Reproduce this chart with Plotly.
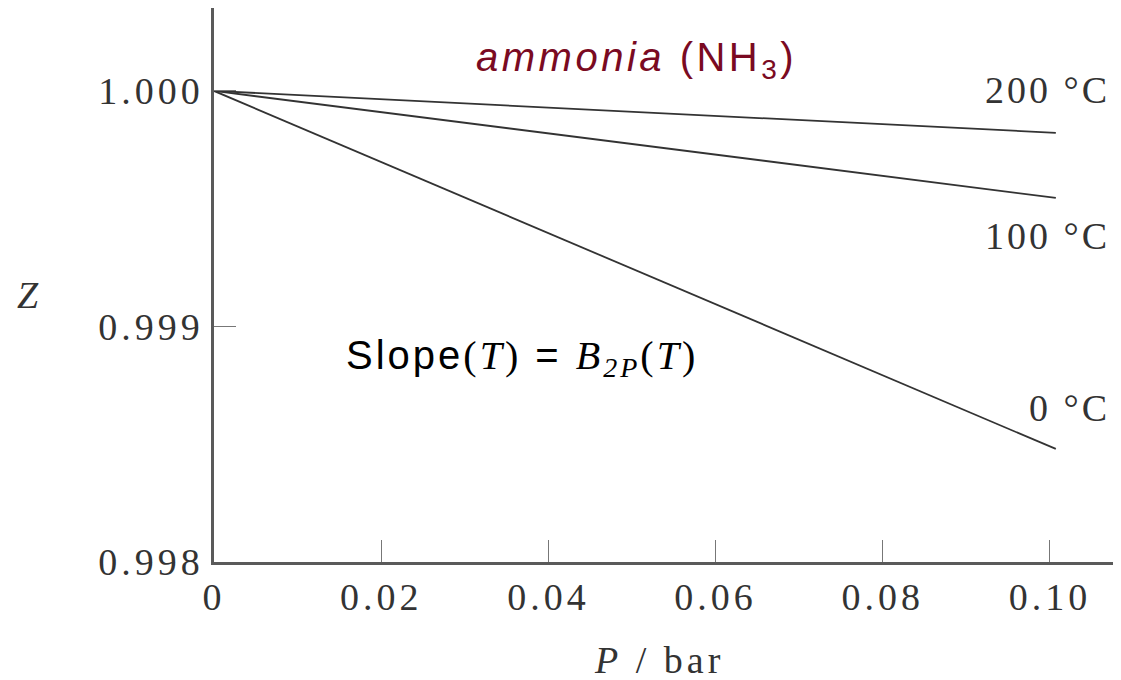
import plotly.graph_objects as go

# Data
pressure = [0.0, 0.1007]            # P / bar
z_200 = [1.0, 0.999822]
z_100 = [1.0, 0.999546]
z_0 = [1.0, 0.998480]
series_names = ["200 °C", "100 °C", "0 °C"]

x_tickvals = [0, 0.02, 0.04, 0.06, 0.08, 0.10]
x_ticklabels = ["0", "0.02", "0.04", "0.06", "0.08", "0.10"]
y_tickvals = [0.998, 0.999, 1.000]
y_ticklabels = ["0.998", "0.999", "1.000"]

SERIF = "Liberation Serif, Times New Roman, serif"
SANS = "Liberation Sans, Arial, sans-serif"
LINE_COLOR = "#333333"
AXIS_COLOR = "#5a5a5a"
TEXT_COLOR = "#333333"


def spaced(t, px):
    return f"<span style='letter-spacing:{px}px'>{t}</span>"


fig = go.Figure()
for name, z in zip(series_names, [z_200, z_100, z_0]):
    fig.add_trace(go.Scatter(x=pressure, y=z, mode="lines", name=name,
                             line=dict(color=LINE_COLOR, width=1.8),
                             showlegend=False, hoverinfo="skip"))

# Curve labels
for name, ypos in zip(series_names, [1.000004, 0.999384, 0.998654]):
    fig.add_annotation(x=1.0, xref="paper", y=ypos, yref="y", text=spaced(name, 3),
                       showarrow=False, xanchor="right", yanchor="middle", xshift=-4,
                       font=dict(family=SERIF, size=38, color=TEXT_COLOR))

# Title-like label
fig.add_annotation(x=0.0505, xref="x", y=1.000132, yref="y",
                   text=spaced("<i>ammonia</i> (NH<sub>3</sub>)", 3.5), showarrow=False,
                   xanchor="center", yanchor="middle",
                   font=dict(family=SANS, size=40, color="#7a0a22"))

# Slope annotation
fig.add_annotation(x=0.0155, xref="x", y=0.998866, yref="y",
                   text=spaced("Slope<span style='font-family:Liberation Serif'>(<i>T</i>)</span> = "
                               "<span style='font-family:Liberation Serif'><i>B</i><sub><i>2P</i></sub>(<i>T</i>)</span>", 3),
                   showarrow=False, xanchor="left", yanchor="middle",
                   font=dict(family=SANS, size=40, color="#000"))

# Axis titles
fig.add_annotation(x=-0.206, xref="paper", y=0.999134, yref="y", text="<i>Z</i>", showarrow=False,
                   xanchor="center", yanchor="middle",
                   font=dict(family=SERIF, size=38, color=TEXT_COLOR))
fig.add_annotation(x=0.0532, xref="x", y=-0.176, yref="paper", text=spaced("<i>P</i> / bar", 4),
                   showarrow=False, xanchor="center", yanchor="middle",
                   font=dict(family=SERIF, size=38, color=TEXT_COLOR))

# The page body has a default margin; compensate so the plot lands where the reference has it.
fig.update_layout(
    width=1113, height=672,
    margin=dict(l=206, r=5, t=0, b=118),
    plot_bgcolor="white", paper_bgcolor="white",
    xaxis=dict(range=[0, 0.1079], tickvals=x_tickvals,
               ticktext=[spaced(t, 4) for t in x_ticklabels],
               ticks="inside", ticklen=22, tickwidth=1.2, tickcolor="#777",
               showline=True, linecolor=AXIS_COLOR, linewidth=2.5,
               showgrid=False, zeroline=False,
               tickfont=dict(family=SERIF, size=38, color=TEXT_COLOR)),
    yaxis=dict(range=[0.998, 1.000352], tickvals=y_tickvals,
               ticktext=[spaced(t, 4) for t in y_ticklabels],
               ticks="inside", ticklen=22, tickwidth=1.2, tickcolor="#777",
               showline=True, linecolor=AXIS_COLOR, linewidth=2.5,
               showgrid=False, zeroline=False,
               tickfont=dict(family=SERIF, size=38, color=TEXT_COLOR)),
)

fig.write_html("out.html")
